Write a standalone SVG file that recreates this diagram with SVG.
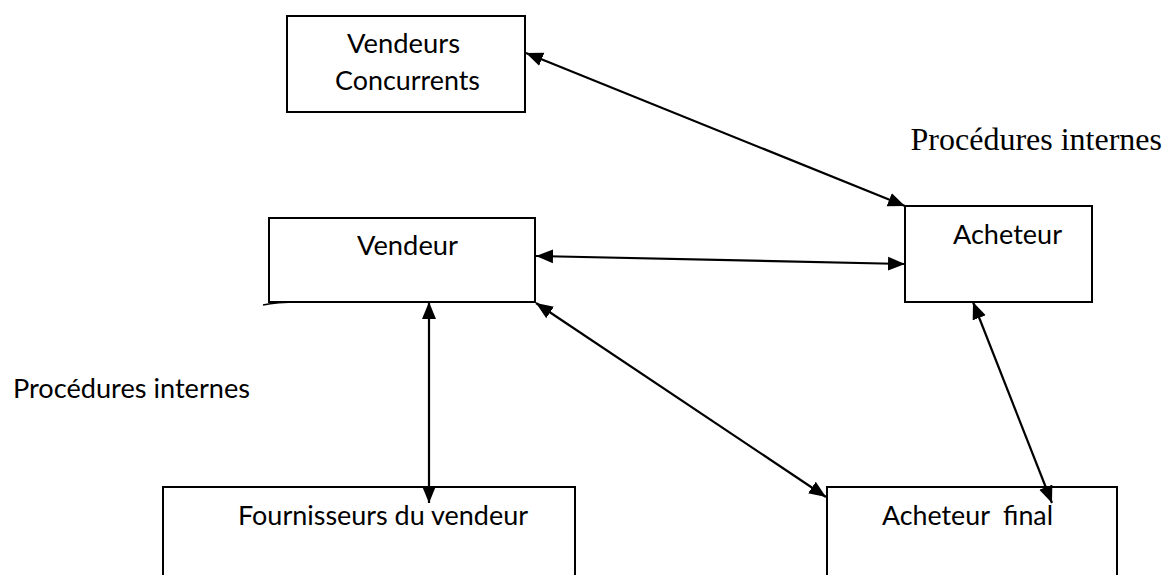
<svg xmlns="http://www.w3.org/2000/svg" width="1165" height="575" viewBox="0 0 1165 575">
  <style>
    .box { fill: #ffffff; stroke: #000000; stroke-width: 2; }
    .lbl { font-family: Lato, "Liberation Sans", sans-serif; font-size: 26.5px; fill: #000000; }
    .serif { font-family: "Liberation Serif", "Times New Roman", serif; font-size: 32px; fill: #000000; }
    .link { fill: none; stroke: #000000; stroke-width: 2.2; marker-start: url(#head); marker-end: url(#head); }
  </style>
  <defs>
    <marker id="head" markerUnits="userSpaceOnUse" markerWidth="18" markerHeight="16" refX="17" refY="8" orient="auto-start-reverse">
      <path d="M0,1 L17,8 L0,15 Z" fill="#000000"/>
    </marker>
  </defs>

  <rect width="1165" height="575" fill="#ffffff"/>

  <!-- nodes -->
  <g id="vendeurs-concurrents">
    <rect class="box" x="287" y="16" width="238" height="96"/>
    <text class="lbl" x="347" y="53" textLength="113" lengthAdjust="spacingAndGlyphs">Vendeurs</text>
    <text class="lbl" x="335" y="90" textLength="145" lengthAdjust="spacingAndGlyphs">Concurrents</text>
  </g>

  <g id="vendeur">
    <rect class="box" x="269" y="218" width="266" height="84"/>
    <path d="M300,302 Q276,302 263,305" fill="none" stroke="#000000" stroke-width="1.5"/>
    <text class="lbl" x="357" y="255" textLength="101" lengthAdjust="spacingAndGlyphs">Vendeur</text>
  </g>

  <g id="acheteur">
    <rect class="box" x="905" y="206" width="187" height="96"/>
    <text class="lbl" x="953" y="244" textLength="109" lengthAdjust="spacingAndGlyphs">Acheteur</text>
  </g>

  <g id="fournisseurs">
    <rect class="box" x="163" y="487" width="412" height="100"/>
    <text class="lbl" x="238" y="525" textLength="290" lengthAdjust="spacingAndGlyphs">Fournisseurs du vendeur</text>
  </g>

  <g id="acheteur-final">
    <rect class="box" x="827" y="487" width="290" height="100"/>
    <text class="lbl" x="882" y="525" textLength="171" lengthAdjust="spacingAndGlyphs" style="white-space:pre">Acheteur  final</text>
  </g>

  <!-- free labels -->
  <g id="procedures-acheteur">
    <text class="serif" x="1162" y="150" text-anchor="end">Procédures internes</text>
  </g>
  <g id="procedures-vendeur">
    <text class="lbl" x="13" y="398" textLength="237" lengthAdjust="spacingAndGlyphs">Procédures internes</text>
  </g>

  <!-- connectors -->
  <g id="connectors">
    <line class="link" x1="526" y1="53" x2="905" y2="206"/>
    <line class="link" x1="536" y1="256" x2="905" y2="264"/>
    <line class="link" x1="429" y1="302" x2="429" y2="503"/>
    <line class="link" x1="536" y1="303" x2="826" y2="497"/>
    <line class="link" x1="973" y1="302" x2="1052" y2="503"/>
  </g>
</svg>
